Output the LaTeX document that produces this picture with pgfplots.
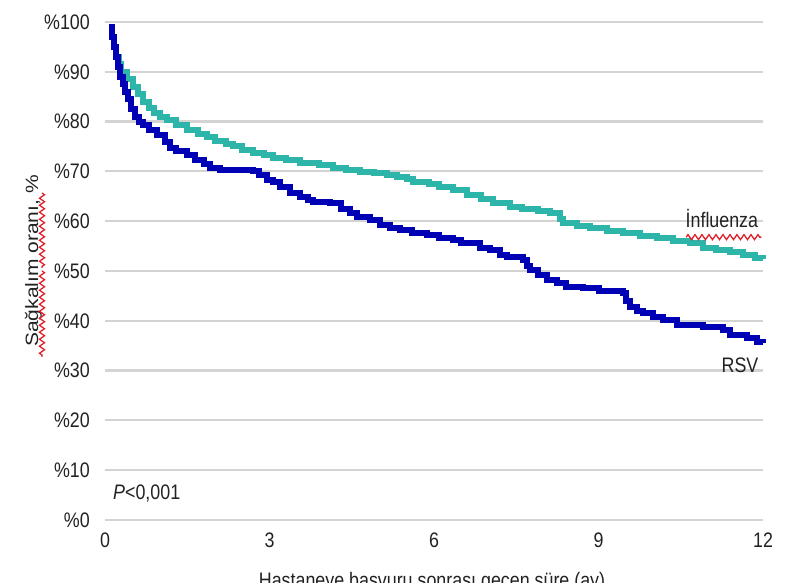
\documentclass[border=0pt]{standalone}
\usepackage{fontspec}
\setmainfont{Liberation Sans}[FakeStretch=0.85]
\newfontfamily\plainsans{Liberation Sans}
\usepackage{pgfplots}
\pgfplotsset{compat=1.18}
\usetikzlibrary{decorations.pathmorphing}
\definecolor{rsvblue}{HTML}{0000B4}
\definecolor{flutea}{HTML}{2DB5A9}
\definecolor{gridgray}{HTML}{D3D3D3}
\definecolor{squig}{HTML}{E0202A}
\definecolor{txt}{HTML}{222222}

\pgfplotstableread{
t v
0.08 99
0.12 97
0.16 95
0.2 93
0.24 91
0.28 89
0.32 87.5
0.36 86
0.42 84.5
0.48 82.5
0.55 81
0.62 80
0.7 79.3
0.8 78.3
0.95 77.3
1.1 76
1.19 74.7
1.3 74
1.5 73.3
1.65 72.3
1.8 71.5
1.92 70.7
2.1 70.3
2.7 70
2.8 69.3
2.95 68.3
3.07 67.9
3.2 66.9
3.37 65.7
3.56 64.9
3.7 64.3
3.8 63.9
4.1 63.6
4.3 62.5
4.47 61.6
4.6 60.8
4.83 60.2
5.02 59.2
5.2 58.7
5.38 58.2
5.6 57.7
5.87 57.2
6.1 56.7
6.35 56.2
6.5 55.6
6.84 54.6
7.02 54.2
7.2 53.2
7.33 52.8
7.63 52.2
7.7 51
7.75 50.2
7.9 49.2
8.06 48.2
8.24 47.6
8.4 46.8
8.72 46.6
9.0 46
9.45 45.6
9.5 44
9.57 42.8
9.7 42
9.81 41.6
10.0 40.8
10.18 40.2
10.43 39.2
10.9 38.8
11.27 38.2
11.4 37.1
11.71 36.5
11.89 35.7
12 35.5
}\rsvdata

\pgfplotstableread{
t v
0.08 99
0.12 97
0.16 95
0.2 93
0.25 91.5
0.3 90
0.4 88.5
0.51 87
0.6 85.5
0.7 84
0.8 82.8
0.9 81.8
1.0 81
1.13 80.3
1.3 79.3
1.5 78.3
1.7 77.6
1.86 77
2.0 76.2
2.2 75.5
2.34 75
2.5 74.3
2.7 73.7
2.9 73.2
3.07 72.7
3.3 72.2
3.56 71.7
3.9 71.3
4.16 70.7
4.4 70.3
4.65 69.9
4.9 69.6
5.14 69.3
5.32 68.9
5.5 68.4
5.62 67.9
5.9 67.4
6.1 66.9
6.35 66.2
6.6 65.3
6.85 64.5
7.08 63.6
7.39 62.9
7.6 62.5
7.9 62.1
8.12 61.6
8.3 60.5
8.35 59.6
8.6 59.1
8.85 58.6
9.15 58.1
9.45 57.6
9.75 57.1
10.07 56.6
10.35 56.1
10.67 55.6
10.9 54.6
11.15 54.2
11.4 53.8
11.64 53.2
11.85 52.7
12 52.5
}\fludata

\begin{document}
\begin{tikzpicture}[font=\fontsize{21bp}{25bp}\selectfont, txt]
\begin{axis}[
    scale only axis,
    width=658bp, height=498bp,
    xmin=0, xmax=12, ymin=0, ymax=100,
    xtick={0,3,6,9,12},
    ytick={0,10,...,100},
    yticklabel={\%\pgfmathprintnumber{\tick}},
    /pgf/number format/assume math mode=true,
    axis line style={draw=none},
    major tick length=0pt,
    ymajorgrids,
    grid style={gridgray, line width=2.2bp},
    tick label style={font=\fontsize{21bp}{25bp}\selectfont, text=txt},
    yticklabel style={anchor=east, inner sep=0pt, xshift=-15bp},
    xticklabel style={anchor=north, inner sep=0pt, yshift=-13bp},
    xlabel={Hastaneye başvuru sonrası geçen süre (ay)},
    xlabel style={at={(axis description cs:0.497,-0.1044)}, anchor=north, inner sep=0pt},
    ylabel={\scalebox{1}[0.85]{\plainsans\fontsize{21bp}{25bp}\selectfont Sağkalım oranı, \%}},
    ylabel style={at={(axis description cs:-0.1018,0.520)}, anchor=base, inner sep=0pt},
    clip=false,
]
\addplot[const plot, flutea, line width=6bp, line join=miter] table[x=t, y=v] {\fludata};
\addplot[const plot, rsvblue, line width=6bp, line join=miter] table[x=t, y=v] {\rsvdata};
\node[anchor=center, inner sep=0pt] at (axis cs:11.25,60.6) {İnfluenza};
\node[anchor=center, inner sep=0pt] at (axis cs:11.58,31.1) {RSV};
\node[anchor=west, inner sep=0pt] at (axis cs:0.146,5.4) {\textit{P}<0,001};
\draw[squig, line width=1.3bp, decorate, decoration={zigzag, segment length=7bp, amplitude=2.5bp}] (axis cs:10.6,56.8) -- (axis cs:11.97,56.8);
\end{axis}
\draw[squig, line width=1.3bp, decorate, decoration={zigzag, segment length=7bp, amplitude=2.5bp}] (-63bp,327bp) -- (-63bp,252bp);
\draw[squig, line width=1.3bp, decorate, decoration={zigzag, segment length=7bp, amplitude=2.5bp}] (-63bp,249bp) -- (-63bp,163bp);
\pgfresetboundingbox
\useasboundingbox (-105bp,-63bp) rectangle (681bp,520bp);
\end{tikzpicture}
\end{document}
